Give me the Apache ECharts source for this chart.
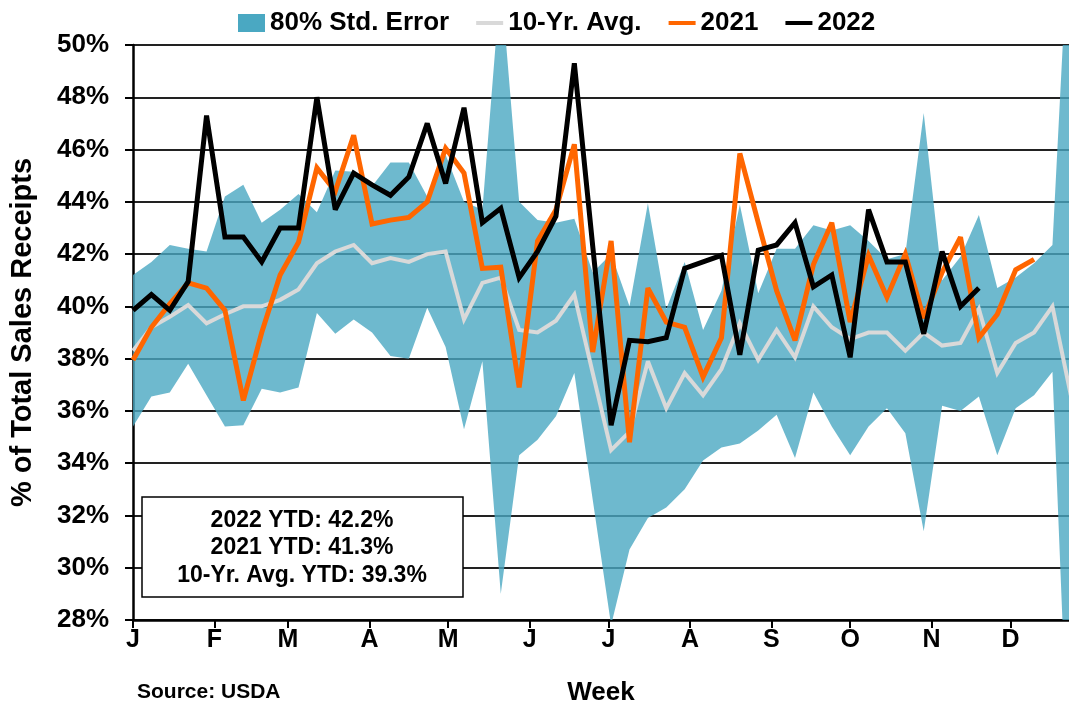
<!DOCTYPE html>
<html>
<head>
<meta charset="utf-8">
<title>Sales receipts by week</title>
<script src="https://cdn.jsdelivr.net/npm/echarts@6/dist/echarts.min.js"></script>
<style>
  html, body { margin: 0; padding: 0; background: #fff; }
  #chart { width: 1069px; height: 704px; }
</style>
</head>
<body>
<div id="chart"></div>
<script>
// week numbers (1..52)
var weeks = [1,2,3,4,5,6,7,8,9,10,11,12,13,14,15,16,17,18,19,20,21,22,23,24,25,26,
             27,28,29,30,31,32,33,34,35,36,37,38,39,40,41,42,43,44,45,46,47,48,49,50,51,52];

// 80% std. error band
var bandUpper = [41.2,41.7,42.35,42.2,42.1,44.2,44.65,43.2,43.7,44.3,43.6,45.2,45.15,44.6,45.5,45.5,44.2,45.8,44.0,43.7,52.5,44.0,43.3,43.2,43.35,41.3,
                 42.0,40.0,43.95,39.9,41.7,39.1,40.6,43.9,40.5,42.2,42.2,43.1,42.9,43.1,42.5,41.8,42.0,47.4,41.0,41.9,43.5,40.7,41.1,41.65,42.35,56.0];
var bandLower = [35.4,36.55,36.7,37.8,36.6,35.4,35.45,36.85,36.7,36.9,39.75,38.95,39.5,39.0,38.1,38.0,39.95,38.45,35.3,37.9,29.0,34.3,34.9,35.8,37.45,32.6,
                 27.8,30.7,31.9,32.3,33.0,34.1,34.6,34.75,35.25,35.85,34.2,36.7,35.4,34.3,35.4,36.1,35.15,31.4,36.2,36.0,36.55,34.3,36.1,36.6,37.5,20.0];

// 10-yr average
var avg10 = [38.3,39.2,39.6,40.05,39.35,39.7,40.0,40.0,40.25,40.65,41.65,42.1,42.35,41.65,41.85,41.7,42.0,42.1,39.5,40.9,41.1,39.1,39.0,39.45,40.45,37.45,
             34.5,35.2,37.9,36.1,37.45,36.6,37.6,39.35,37.95,39.1,38.05,40.0,39.2,38.75,39.0,39.0,38.3,39.0,38.5,38.6,39.9,37.45,38.6,39.0,40.0,36.6];

// 2021 (weeks 1-50)
var y2021 = [37.95,39.2,40.1,40.9,40.7,39.85,36.4,39.0,41.2,42.45,45.3,44.4,46.55,43.15,43.3,43.4,44.0,46.05,45.1,41.45,41.5,36.9,42.5,43.7,46.2,38.25,
             42.5,34.8,40.7,39.4,39.2,37.3,38.8,45.85,43.2,40.6,38.7,41.6,43.2,39.4,41.95,40.35,42.0,39.55,41.3,42.65,38.8,39.7,41.4,41.8];

// 2022 (weeks 1-47)
var y2022 = [39.85,40.45,39.85,40.95,47.3,42.65,42.65,41.7,43.0,43.0,48.0,43.7,45.1,44.65,44.25,44.95,47.0,44.7,47.6,43.2,43.75,41.1,42.1,43.45,49.3,42.3,
             35.45,38.7,38.65,38.8,41.45,41.7,41.95,38.15,42.15,42.35,43.2,40.75,41.2,38.05,43.7,41.7,41.7,38.95,42.1,40.0,40.7];

// month starts (day of year) and labels
var monthStart = [0,31,59,90,120,151,181,212,243,273,304,334];
var monthLabels = ['J','F','M','A','M','J','J','A','S','O','N','D'];

var ytdNotes = ['2022 YTD: 42.2%', '2021 YTD: 41.3%', '10-Yr. Avg. YTD: 39.3%'];

var FONT = '"Liberation Sans", Arial, sans-serif';
var BAND = '#4aa8c2';
var LINE_ICON = 'path://M0,0H40V6H0Z';

// week -> day of year, so the month ticks sit at real month starts
function dayOf(i) { return (weeks[i] - 1) * 7; }
function toPoints(vals) {
    var out = [];
    for (var i = 0; i < vals.length; i++) {
        out.push([dayOf(i), vals[i]]);
    }
    return out;
}

var chart = echarts.init(document.getElementById('chart'));
chart.setOption({
    animation: false,
    textStyle: { fontFamily: FONT },
    legend: {
        top: 5,
        left: 233,
        itemWidth: 27,
        itemHeight: 18,
        itemGap: 27,
        textStyle: { fontSize: 26, fontWeight: 'bold', color: '#000', fontFamily: FONT },
        data: [
            { name: '80% Std. Error', icon: 'rect' },
            { name: '10-Yr. Avg.', icon: LINE_ICON },
            { name: '2021', icon: LINE_ICON },
            { name: '2022', icon: LINE_ICON }
        ]
    },
    // chart is cut at the right edge in the original, so the axis stops short of 31 Dec
    grid: { left: 133, top: 45, bottom: 84, right: 0, outerBoundsMode: 'none' },
    xAxis: {
        type: 'value',
        min: 0,
        max: 356.3,
        name: 'Week',
        nameLocation: 'middle',
        nameGap: 60,
        nameTextStyle: { fontSize: 26, fontWeight: 'bold', color: '#000', fontFamily: FONT },
        axisLine: { lineStyle: { color: '#000', width: 2.5 } },
        axisTick: { customValues: monthStart, length: 8, lineStyle: { color: '#000', width: 2 } },
        axisLabel: {
            customValues: monthStart,
            margin: 8,
            fontSize: 25,
            fontWeight: 'bold',
            color: '#000',
            formatter: function (v) { return monthLabels[monthStart.indexOf(v)]; }
        },
        splitLine: { show: false }
    },
    yAxis: {
        type: 'value',
        min: 28,
        max: 50,
        interval: 2,
        name: '% of Total Sales Receipts',
        nameLocation: 'middle',
        nameGap: 96,
        nameRotate: 90,
        nameTextStyle: { fontSize: 29, fontWeight: 'bold', color: '#000', fontFamily: FONT },
        axisLine: { show: true, lineStyle: { color: '#000', width: 2.5 } },
        axisTick: { show: true, length: 8, lineStyle: { color: '#000', width: 2 } },
        axisLabel: {
            margin: 24,
            fontSize: 26,
            fontWeight: 'bold',
            color: '#000',
            formatter: '{value}%'
        },
        splitLine: { lineStyle: { color: '#222', width: 2 } }
    },
    series: [
        {
            // band between lower and upper bound, one polygon through the axes' scales
            name: '80% Std. Error',
            type: 'custom',
            color: BAND,
            itemStyle: { color: BAND },
            data: toPoints(bandUpper),
            encode: { x: 0, y: 1 },
            z: 1,
            renderItem: function (params, api) {
                if (params.dataIndex !== 0) return null;
                var pts = [];
                for (var i = 0; i < bandUpper.length; i++) {
                    pts.push(api.coord([dayOf(i), bandUpper[i]]));
                }
                for (var j = bandLower.length - 1; j >= 0; j--) {
                    pts.push(api.coord([dayOf(j), bandLower[j]]));
                }
                var cs = params.coordSys;
                return {
                    type: 'polygon',
                    shape: { points: pts },
                    style: { fill: BAND, opacity: 0.8 },
                    clipPath: { type: 'rect', shape: { x: cs.x, y: cs.y, width: cs.width, height: cs.height } }
                };
            }
        },
        {
            name: '10-Yr. Avg.',
            type: 'line',
            data: toPoints(avg10),
            symbol: 'none',
            color: '#d9d9d9',
            z: 2,
            lineStyle: { color: '#d9d9d9', width: 4, join: 'miter', miterLimit: 3 }
        },
        {
            name: '2021',
            type: 'line',
            data: toPoints(y2021),
            symbol: 'none',
            color: '#ff6600',
            z: 3,
            lineStyle: { color: '#ff6600', width: 5, join: 'miter', miterLimit: 3 }
        },
        {
            name: '2022',
            type: 'line',
            data: toPoints(y2022),
            symbol: 'none',
            color: '#000',
            z: 4,
            lineStyle: { color: '#000', width: 5, join: 'miter', miterLimit: 3 }
        }
    ],
    graphic: [
        {
            type: 'rect',
            shape: { x: 142, y: 497, width: 321, height: 100 },
            style: { fill: '#fff', stroke: '#000', lineWidth: 1.5 },
            z: 100
        },
        {
            type: 'text', x: 302, y: 521, z: 101,
            style: { text: ytdNotes[0], font: 'bold 23px ' + FONT, fill: '#000', textAlign: 'center', textVerticalAlign: 'middle' }
        },
        {
            type: 'text', x: 302, y: 548, z: 101,
            style: { text: ytdNotes[1], font: 'bold 23px ' + FONT, fill: '#000', textAlign: 'center', textVerticalAlign: 'middle' }
        },
        {
            type: 'text', x: 302, y: 576, z: 101,
            style: { text: ytdNotes[2], font: 'bold 23px ' + FONT, fill: '#000', textAlign: 'center', textVerticalAlign: 'middle' }
        },
        {
            type: 'text', left: 137, top: 682,
            style: { text: 'Source: USDA', font: 'bold 21px ' + FONT, fill: '#000' }
        }
    ]
});
</script>
</body>
</html>
